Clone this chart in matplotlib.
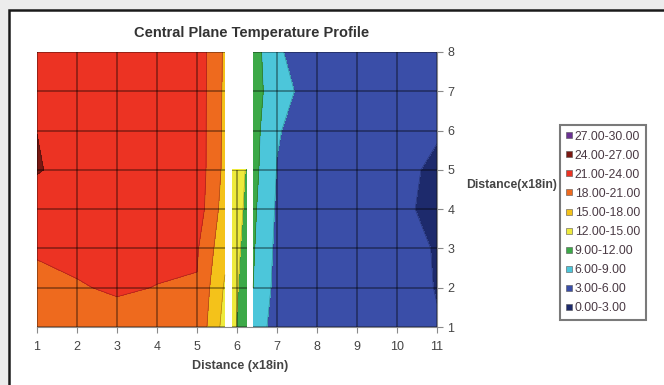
import numpy as np
import matplotlib.pyplot as plt
from matplotlib.lines import Line2D
from matplotlib.patches import Rectangle

plt.rcParams['font.family'] = ['Liberation Sans', 'DejaVu Sans']

# grid positions (x18in); nan columns are blank cells in the sheet
x_pos = [1, 2, 3, 4, 5, 5.7, 5.8, 5.875, 6.25, 6.3, 6.4, 7, 8, 9, 10, 11]
y_pos = [1, 2, 3, 4, 5, 6, 7, 8]
nan = np.nan
temps = [
    [19.5, 20.0, 20.2, 20.3, 20.3, 13.8, nan, 13.0, 9.5, nan, 8.5, 4.2, 4.4, 4.5, 4.3, 3.15],
    [20.5, 20.85, 21.24, 20.95, 20.8, 14.6, nan, 13.2, 10.3, nan, 9.0, 5.0, 4.5, 4.4, 4.0, 2.9],
    [21.2, 21.5, 22.0, 21.5, 21.3, 15.8, nan, 13.3, 11.0, nan, 9.3, 5.3, 4.4, 4.2, 3.8, 2.85],
    [22.5, 22.5, 22.6, 22.5, 22.6, 16.6, nan, 13.4, 11.5, nan, 9.6, 5.6, 4.3, 4.0, 3.5, 2.4],
    [24.2, 23.0, 22.8, 22.6, 22.8, 17.2, nan, 13.5, 11.8, nan, 10.0, 5.9, 4.4, 4.1, 3.6, 2.6],
    [23.98, 23.0, 22.8, 22.7, 22.8, 17.3, nan, nan, nan, nan, 10.2, 6.2, 4.5, 4.3, 3.9, 3.2],
    [23.0, 22.8, 22.7, 22.6, 22.8, 17.4, nan, nan, nan, nan, 10.5, 7.0, 4.7, 4.5, 4.2, 3.5],
    [22.8, 22.7, 22.6, 22.5, 22.8, 17.5, nan, nan, nan, nan, 10.5, 6.3, 4.5, 4.5, 4.3, 3.8],
]
levels = [0, 3, 6, 9, 12, 15, 18, 21, 24, 27, 30]
band_colors = ['#1d2a6c', '#3a4ea8', '#4cc6da', '#3ca948', '#eeea3c',
               '#f4c21a', '#ee6a1e', '#ec3323', '#7a1812', '#6a3192']
band_labels = ['%.2f-%.2f' % (lo, hi) for lo, hi in zip(levels[:-1], levels[1:])]

X, Y = np.meshgrid(x_pos, y_pos)
Z = np.ma.masked_invalid(np.array(temps))

fig = plt.figure(figsize=(6.64, 3.85), dpi=100, facecolor='#ececec')
fig.add_artist(Rectangle((9 / 664, -0.1), 1.0, 1.1 - 10 / 385, transform=fig.transFigure,
                         facecolor='white', edgecolor='#1a1a1a', lw=1.8, zorder=-5))

ax = fig.add_axes([37 / 664, 1 - 327 / 385, 400 / 664, 275 / 385])
ax.patch.set_alpha(0)

ax.contourf(X, Y, Z, levels=levels, colors=band_colors, corner_mask=False)
ax.contour(X, Y, Z, levels=levels, colors='k', linewidths=0.5, alpha=0.3, corner_mask=False)

# region with data, used to clip the grid lines
cover = ax.contourf(X, Y, Z, levels=[-100, 100], colors='none', corner_mask=False)
clip = cover.get_paths()[0]
for xv in range(1, 12):
    ln, = ax.plot([xv, xv], [1, 8], color='black', lw=1.1, alpha=0.45)
    ln.set_clip_path(clip, ax.transData)
for yv in y_pos:
    ln, = ax.plot([1, 11], [yv, yv], color='black', lw=1.1, alpha=0.45)
    ln.set_clip_path(clip, ax.transData)

ax.set_xlim(1, 11)
ax.set_ylim(1, 8)
ax.set_xticks(range(1, 12))
ax.set_yticks(y_pos)
ax.yaxis.tick_right()
for s in ['top', 'left']:
    ax.spines[s].set_visible(False)
for s in ['bottom', 'right']:
    ax.spines[s].set_color('#8a8a8a')
ax.tick_params(colors='#8a8a8a', labelcolor='#444444', labelsize=9, length=4)
ax.tick_params(axis='x', pad=6)

fig.text(252 / 664, 1 - 33 / 385, 'Central Plane Temperature Profile', ha='center',
         va='center', fontsize=10.5, fontweight='bold', color='#333333')
fig.text(240 / 664, 1 - 366 / 385, 'Distance (x18in)', ha='center', va='center',
         fontsize=9, fontweight='bold', color='#444444')
fig.text(512 / 664, 1 - 185 / 385, 'Distance(x18in)', ha='center', va='center',
         fontsize=8.8, fontweight='bold', color='#444444')

handles = [Line2D([], [], ls='', marker='s', markersize=4.5, color=c,
                  markeredgecolor='#555555', markeredgewidth=0.4) for c in band_colors]
leg = fig.legend(handles[::-1], band_labels[::-1], loc='upper left',
                 bbox_to_anchor=(560 / 664, 1 - 125 / 385), borderaxespad=0,
                 fontsize=8.8, labelspacing=0.58, handlelength=0.6, handletextpad=0.15,
                 borderpad=0.45, fancybox=False, framealpha=1)
leg.get_frame().set_edgecolor('#7a7a7a')
leg.get_frame().set_linewidth(1.5)
for t in leg.get_texts():
    t.set_color('#4a3a44')

fig.savefig('out.png', dpi=100, facecolor=fig.get_facecolor())
